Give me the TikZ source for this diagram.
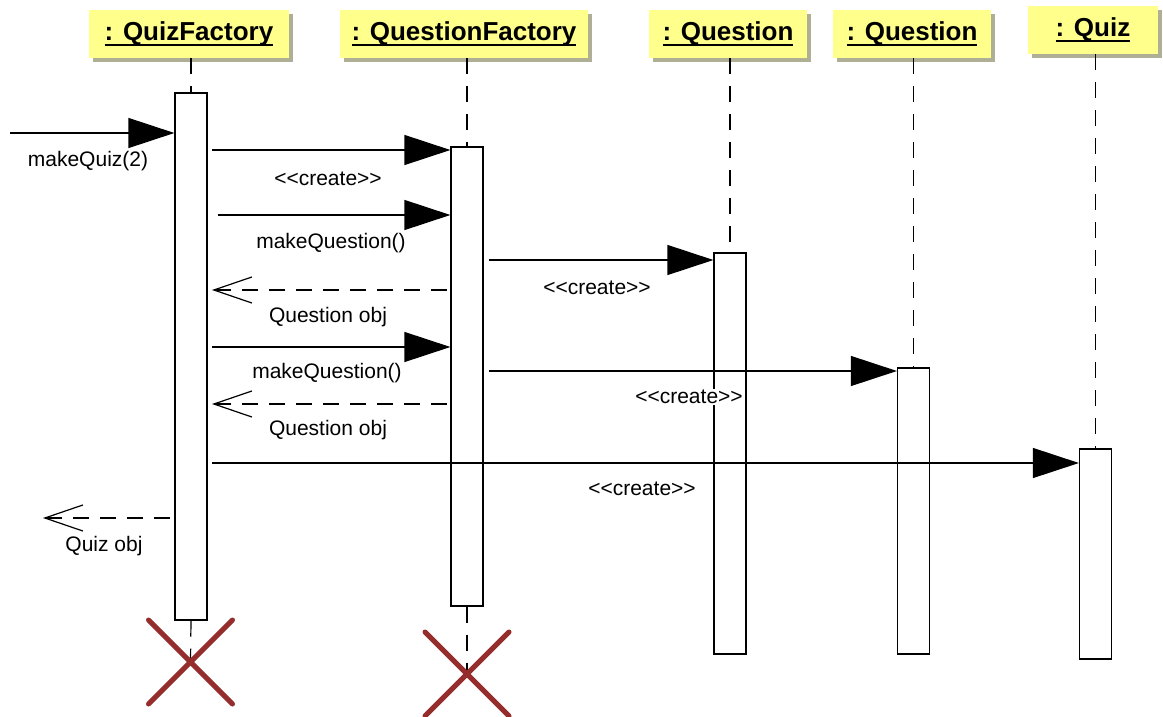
\documentclass[tikz,border=0pt]{standalone}
\usepackage{fontspec}
\setmainfont{Liberation Sans}
\usetikzlibrary{arrows.meta,shadows,calc}
\definecolor{headyellow}{RGB}{255,255,140}
\definecolor{headshadow}{RGB}{175,175,150}
\definecolor{killred}{RGB}{150,45,45}
% underlined object name with a thick rule
\newcommand\ulname[1]{\setbox0\hbox{#1}\rlap{\rule[-5pt]{\wd0}{2pt}}\box0}
\begin{document}
\begin{tikzpicture}[x=1pt,y=-1pt,
  objhead/.style={fill=headyellow, inner sep=0pt, minimum height=48pt,
    font=\fontsize{26}{30}\selectfont\bfseries,
    drop shadow={shadow xshift=4pt, shadow yshift=-4pt, fill=headshadow, opacity=1}},
  act/.style={draw, line width=1.2pt, fill=white, minimum width=32pt, inner sep=0pt},
  life/.style={line width=1.2pt, dash pattern=on 16pt off 12pt},
  call/.style={line width=1.2pt, -{Triangle[length=46pt,width=30pt]}},
  ret/.style={line width=1.2pt, dash pattern=on 16pt off 11pt,
    -{Straight Barb[length=38pt,width=26pt,line width=1.2pt]}},
  msg/.style={font=\fontsize{21}{24}\selectfont, inner sep=1pt, fill=white},
  kill/.style={draw=killred, line width=5pt, line cap=round}]
\useasboundingbox (0,0) rectangle (1163,717);

% object heads
\node[objhead, minimum width=200pt] (hQF)  at (189,34)   {\ulname{: QuizFactory}};
\node[objhead, minimum width=248pt] (hQnF) at (464,34)   {\ulname{: QuestionFactory}};
\node[objhead, minimum width=158pt] (hQ1)  at (728,34)   {\ulname{: Question}};
\node[objhead, minimum width=158pt] (hQ2)  at (912,34)   {\ulname{: Question}};
\node[objhead, minimum width=130pt] (hQz)  at (1093,30)  {\ulname{: Quiz}};

% activation bars
\node[act, minimum height=527pt] (aQF)  at (191,356.5)   {};
\node[act, minimum height=459pt] (aQnF) at (467,376.5)   {};
\node[act, minimum height=401pt] (aQ1)  at (730,453.5)   {};
\node[act, minimum height=286pt] (aQ2)  at (913.5,511)   {};
\node[act, minimum height=210pt] (aQz)  at (1095.5,554)  {};

% destruction points
\coordinate (xQF)  at (190.5,662);
\coordinate (xQnF) at (467,674);

% lifelines
\draw[life] (aQF.north |- hQF.south)   -- (aQF.north);
\draw[life] (aQnF.north |- hQnF.south) -- (aQnF.north);
\draw[life] (aQ1.north |- hQ1.south)   -- (aQ1.north);
\draw[life] (aQ2.north |- hQ2.south)   -- (aQ2.north);
\draw[life] (aQz.north |- hQz.south)   -- (aQz.north);
\draw[life] (aQF.south)  -- (xQF);
\draw[life] (aQnF.south) -- (xQnF);

% message end points
\coordinate (m0a) at (10,133);
\coordinate (m1a) at (212,150);
\coordinate (m2a) at (218,215);
\coordinate (m3a) at (489,260);
\coordinate (m4a) at (447,290);
\coordinate (m4b) at (212,290);
\coordinate (m5a) at (212,347);
\coordinate (m6a) at (489,371);
\coordinate (m7a) at (447,404);
\coordinate (m7b) at (212,404);
\coordinate (m8a) at (212,463);
\coordinate (m9a) at (170,518);
\coordinate (m9b) at (43,518);

% messages
\draw[call] (m0a) -- (aQF.west |- m0a);
\draw[call] (m1a) -- (aQnF.west |- m1a);
\draw[call] (m2a) -- (aQnF.west |- m2a);
\draw[call] (m3a) -- (aQ1.west |- m3a);
\draw[ret]  (m4a) -- (m4b);
\draw[call] (m5a) -- (aQnF.west |- m5a);
\draw[call] (m6a) -- (aQ2.west |- m6a);
\draw[ret]  (m7a) -- (m7b);
\draw[call] (m8a) -- (aQz.west |- m8a);
\draw[ret]  (m9a) -- (m9b);

% message labels
\node[msg] (l0) at (88,161)  {makeQuiz(2)};
\node[msg] (l1) at (328,179) {<{}<create>{}>};
\node[msg] (l2) at (331,243) {makeQuestion()};
\node[msg] (l3) at (597,288) {<{}<create>{}>};
\node[msg] (l4) at (328,317) {Question obj};
\node[msg] (l5) at (327,373) {makeQuestion()};
\node[msg] (l6) at (689,397) {<{}<create>{}>};
\node[msg] (l7) at (328,430) {Question obj};
\node[msg] (l8) at (642,489) {<{}<create>{}>};
\node[msg] (l9) at (104,546) {Quiz obj};

% destruction crosses
\foreach \c in {xQF,xQnF}{
  \draw[kill] ($(\c)+(-42,-42)$) -- ($(\c)+(42,42)$);
  \draw[kill] ($(\c)+(42,-42)$) -- ($(\c)+(-42,42)$);
}
\end{tikzpicture}
\end{document}
